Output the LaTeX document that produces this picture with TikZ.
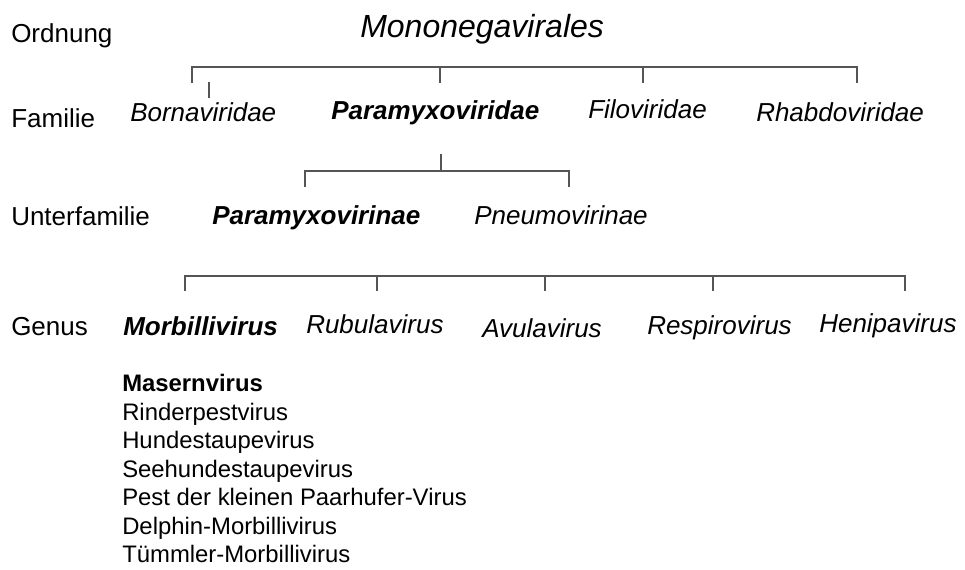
\documentclass[tikz,border=0pt]{standalone}
\usepackage{fontspec}
\setmainfont{Liberation Sans}
\begin{document}
\begin{tikzpicture}[x=0.75pt,y=-0.75pt,
  lbl/.style={anchor=base west,inner sep=0pt,font=\fontsize{19.5}{23}\selectfont},
  taxon/.style={lbl,font=\fontsize{19.5}{23}\selectfont\itshape},
  taxonb/.style={lbl,font=\fontsize{19.5}{23}\selectfont\bfseries\itshape},
  title/.style={anchor=base west,inner sep=0pt,font=\fontsize{24}{28}\selectfont\itshape},
  item/.style={anchor=base west,inner sep=0pt,font=\fontsize{17.9}{21}\selectfont},
  itemb/.style={item,font=\fontsize{17.9}{21}\selectfont\bfseries},
  br/.style={draw={rgb,255:red,85;green,85;blue,85},line width=1.1pt}]
\useasboundingbox (0,0) rectangle (965,569);
% level labels
\node[lbl] (ord) at (11,42) {Ordnung};
\node[lbl] (fam) at (11,127) {Familie};
\node[lbl] (ufam) at (11,225) {Unterfamilie};
\node[lbl] (gen) at (11,335) {Genus};
% order
\node[title] (mono) at (360,37) {Mononegavirales};
% families
\node[taxon] (borna) at (130,121) {Bornaviridae};
\node[taxonb] (paramyxo) at (331,119) {Paramyxoviridae};
\node[taxon] (filo) at (588,118) {Filoviridae};
\node[taxon] (rhabdo) at (756,121) {Rhabdoviridae};
% subfamilies
\node[taxonb] (paramyxovirinae) at (212,224) {Paramyxovirinae};
\node[taxon] (pneumo) at (474,224) {Pneumovirinae};
% genera
\node[taxonb] (morbilli) at (123,335) {Morbillivirus};
\node[taxon] (rubula) at (306,333) {Rubulavirus};
\node[taxon] (avula) at (482,337) {Avulavirus};
\node[taxon] (respiro) at (647,334) {Respirovirus};
\node[taxon] (henipa) at (819,332) {Henipavirus};
% species list
\node[itemb] (s1) at (122,391.5) {Masernvirus};
\node[item] (s2) at (122,420) {Rinderpestvirus};
\node[item] (s3) at (122,448.5) {Hundestaupevirus};
\node[item] (s4) at (122,477) {Seehundestaupevirus};
\node[item] (s5) at (122,505.5) {Pest der kleinen Paarhufer-Virus};
\node[item] (s6) at (122,534) {Delphin-Morbillivirus};
\node[item] (s7) at (122,562.5) {Tümmler-Morbillivirus};
% bracket: order -> families
\coordinate (o1) at (192,67); \coordinate (o1b) at (192,83);
\coordinate (o2) at (440,67); \coordinate (o2b) at (440,83);
\coordinate (o3) at (643,67); \coordinate (o3b) at (643,83);
\coordinate (o4) at (857,67); \coordinate (o4b) at (857,83);
\coordinate (bt) at (209,82); \coordinate (bb) at (209,98);
\draw[br] (o1b) -- (o1) -- (o4) -- (o4b);
\draw[br] (o2) -- (o2b);
\draw[br] (o3) -- (o3b);
\draw[br] (bt) -- (bb);
% bracket: Paramyxoviridae -> subfamilies
\coordinate (p0) at (441,154); \coordinate (p0b) at (441,171);
\coordinate (p1) at (305,171); \coordinate (p1b) at (305,187);
\coordinate (p2) at (569,171); \coordinate (p2b) at (569,187);
\draw[br] (p0) -- (p0b);
\draw[br] (p1b) -- (p1) -- (p2) -- (p2b);
% bracket: Paramyxovirinae -> genera
\coordinate (g1) at (185,276); \coordinate (g1b) at (185,291);
\coordinate (g2) at (377,276); \coordinate (g2b) at (377,291);
\coordinate (g3) at (545,276); \coordinate (g3b) at (545,291);
\coordinate (g4) at (713,276); \coordinate (g4b) at (713,291);
\coordinate (g5) at (905,276); \coordinate (g5b) at (905,291);
\draw[br] (g1b) -- (g1) -- (g5) -- (g5b);
\draw[br] (g2) -- (g2b);
\draw[br] (g3) -- (g3b);
\draw[br] (g4) -- (g4b);
\end{tikzpicture}
\end{document}
